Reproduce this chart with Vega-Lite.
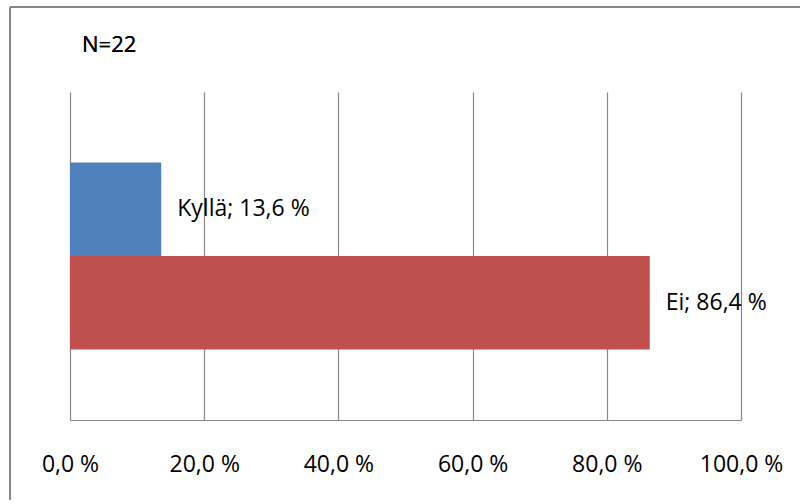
{
  "$schema": "https://vega.github.io/schema/vega-lite/v6.json",
  "width": 671,
  "height": 328,
  "autosize": {"type": "none"},
  "padding": {"left": 70, "top": 92, "right": 59, "bottom": 84},
  "background": "white",
  "data": {
    "values": [
      {"category": "Kyllä", "value": 13.6},
      {"category": "Ei", "value": 86.4}
    ]
  },
  "transform": [
    {"calculate": "datum.category + '; ' + replace(format(datum.value, '.1f'), '.', ',') + ' %'", "as": "label"}
  ],
  "layer": [
    {
      "layer": [
        {
          "mark": {"type": "rule", "stroke": "#878787", "strokeWidth": 2, "clip": false},
          "encoding": {
            "x": {"datum": -8.94, "type": "quantitative"},
            "x2": {"datum": 108.8},
            "y": {"datum": 413, "type": "quantitative", "scale": {"domain": [0, 328], "nice": false, "zero": false}, "axis": null}
          }
        },
        {
          "mark": {"type": "rule", "stroke": "#878787", "strokeWidth": 2, "clip": false},
          "encoding": {
            "x": {"datum": -8.94, "type": "quantitative"},
            "y": {"datum": 413, "type": "quantitative", "axis": null},
            "y2": {"datum": -80}
          }
        },
        {
          "mark": {"type": "text", "align": "left", "baseline": "alphabetic", "font": "Open Sans", "fontSize": 22, "color": "#000000", "clip": false},
          "encoding": {
            "x": {"datum": 1.79, "type": "quantitative"},
            "y": {"datum": 368, "type": "quantitative", "axis": null},
            "text": {"value": "N=22"}
          }
        }
      ]
    },
    {
      "encoding": {
        "y": {
          "field": "category",
          "type": "nominal",
          "sort": ["Kyllä", "Ei"],
          "scale": {"paddingInner": 0, "paddingOuter": 0.754},
          "axis": null
        },
        "x": {
          "field": "value",
          "type": "quantitative",
          "scale": {"domain": [0, 100], "nice": false},
          "axis": {
            "values": [0, 20, 40, 60, 80, 100],
            "grid": true,
            "gridColor": "#888888",
            "gridWidth": 1.2,
            "domainColor": "#888888",
            "domainWidth": 1.2,
            "ticks": false,
            "tickSize": 0,
            "labelExpr": "replace(format(datum.value, '.1f'), '.', ',') + ' %'",
            "labelFont": "Open Sans",
            "labelFontSize": 23,
            "labelColor": "#000000",
            "labelBaseline": "alphabetic",
            "labelPadding": 51,
            "labelFlush": false,
            "labelOverlap": false,
            "labelBound": false,
            "title": null
          }
        }
      },
      "layer": [
        {
          "mark": {"type": "bar", "orient": "horizontal"},
          "encoding": {
            "color": {
              "field": "category",
              "type": "nominal",
              "scale": {"domain": ["Kyllä", "Ei"], "range": ["#4F81BD", "#C0504D"]},
              "legend": null
            }
          }
        },
        {
          "mark": {"type": "text", "align": "left", "baseline": "middle", "dx": 16, "font": "Open Sans", "fontSize": 23, "color": "#000000"},
          "encoding": {
            "text": {"field": "label", "type": "nominal"}
          }
        }
      ]
    }
  ],
  "resolve": {"scale": {"y": "independent"}},
  "config": {"view": {"stroke": null}}
}
